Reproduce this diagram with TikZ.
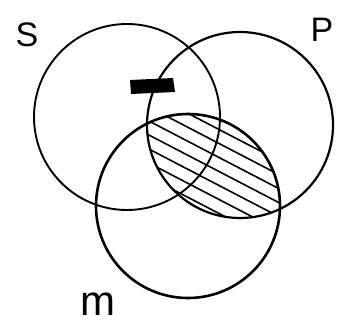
\documentclass[tikz,border=0pt]{standalone}
\usepackage{fontspec}
\setsansfont{Liberation Sans}
\usetikzlibrary{positioning}

\begin{document}
\begin{tikzpicture}[
  x=1pt,y=-1pt,
  setcircle/.style={draw,line width=1.9pt},
  hatchline/.style={line width=1.6pt},
  letter/.style={font=\fontsize{34}{34}\selectfont\sffamily,inner sep=0pt},
]
  \useasboundingbox (0,0) rectangle (343,329);

  % centres of the three sets
  \coordinate (cs) at (127,117);
  \coordinate (cp) at (240,125);
  \coordinate (cm) at (188,206);

  % hatched region: P and M
  \begin{scope}
    \clip (cp) circle[radius=93];
    \clip (cm) circle[radius=92];
    \foreach \k in {36,50,...,260}
      \draw[hatchline] (120,\k) -- ++(200,104);
  \end{scope}

  % circles
  \draw[setcircle] (cs) circle[radius=93];
  \draw[setcircle,line width=2.2pt] (cp) circle[radius=93];
  \draw[setcircle,line width=2.6pt] (cm) circle[radius=92];

  % black bar
  \fill (130,80) -- (173,78) -- (175,92) -- (131,94) -- cycle;

  % labels
  \node[letter] (s) at (27,35) {S};
  \node[letter] (p) at (322,30) {P};
  \node[letter,font=\fontsize{42}{42}\selectfont\sffamily] (m) at (98,304) {m};
\end{tikzpicture}
\end{document}
